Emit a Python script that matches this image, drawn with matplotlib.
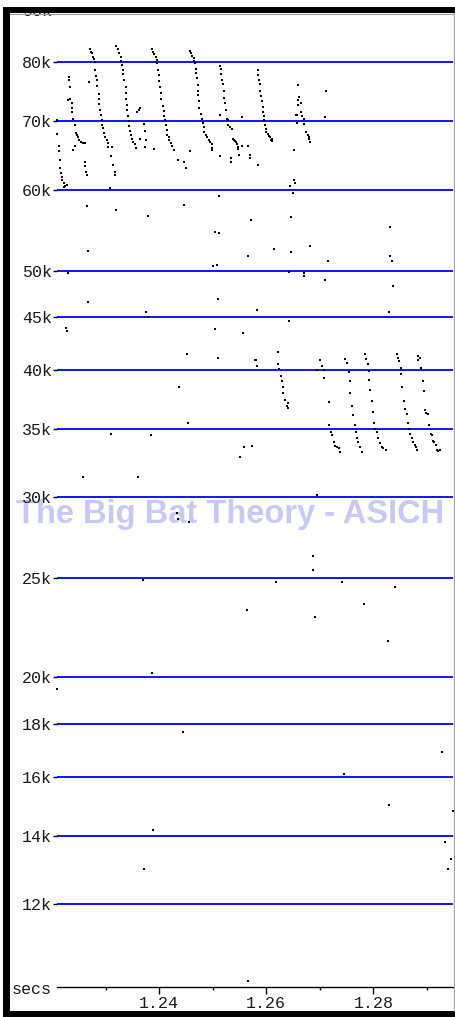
import matplotlib
matplotlib.use("Agg")
import matplotlib.pyplot as plt
from matplotlib.patches import Rectangle
from matplotlib.lines import Line2D
from matplotlib.ticker import NullLocator

# ---------------- data (time in s, frequency in kHz) ----------------
call_a_t = [1.2209, 1.2209, 1.2212, 1.2212, 1.2214, 1.2214, 1.2217, 1.2218, 1.2219, 1.2221, 1.2222, 1.2223, 1.2228]
call_a_f = [70.2, 68.0, 66.2, 65.5, 64.1, 63.0, 62.3, 61.7, 61.4, 60.9, 60.4, 60.5, 60.6]

call_b_t = [1.2232, 1.2232, 1.2234, 1.2229, 1.2233, 1.2236, 1.2237, 1.2237, 1.2239, 1.2242, 1.2244, 1.2247,
            1.2248, 1.2250, 1.2253, 1.2257, 1.2261, 1.2242, 1.2239, 1.2262, 1.2262, 1.2263, 1.2264]
call_b_f = [77.4, 76.8, 75.6, 73.4, 73.6, 72.9, 72.2, 71.5, 70.4, 69.4, 68.2, 67.9,
            67.5, 67.1, 66.8, 66.7, 66.6, 66.2, 65.6, 63.8, 63.3, 62.5, 62.0]

call_c_t = [1.2270, 1.2273, 1.2274, 1.2277, 1.2278, 1.2279, 1.2280, 1.2282, 1.2283, 1.2284, 1.2287, 1.2287,
            1.2288, 1.2289, 1.2291, 1.2292, 1.2293, 1.2294, 1.2297, 1.2299, 1.2302, 1.2304, 1.2305, 1.2312,
            1.2310, 1.2314, 1.2317, 1.2317]
call_c_f = [82.3, 81.9, 81.6, 81.0, 80.5, 80.0, 78.6, 77.6, 76.8, 75.8, 74.4, 73.6,
            72.8, 71.8, 71.0, 70.2, 69.4, 68.9, 68.2, 67.6, 67.1, 66.7, 66.1, 66.1,
            64.8, 63.4, 62.5, 62.0]

call_d_t = [1.2320, 1.2323, 1.2325, 1.2328, 1.2329, 1.2330, 1.2332, 1.2333, 1.2334, 1.2337, 1.2337, 1.2338,
            1.2339, 1.2340, 1.2342, 1.2343, 1.2344, 1.2345, 1.2347, 1.2349, 1.2351, 1.2354, 1.2357]
call_d_f = [82.9, 82.3, 81.6, 81.0, 80.2, 79.5, 78.5, 77.9, 76.8, 75.7, 74.6, 73.6,
            72.6, 71.8, 70.8, 70.0, 69.2, 68.5, 67.9, 67.3, 66.8, 66.5, 65.9]

call_e_t = [1.2386, 1.2389, 1.2391, 1.2394, 1.2396, 1.2396, 1.2398, 1.2399, 1.2400, 1.2401, 1.2403, 1.2404,
            1.2406, 1.2408, 1.2409, 1.2411, 1.2413, 1.2414, 1.2415, 1.2418, 1.2419, 1.2421, 1.2424, 1.2428,
            1.2435, 1.2447, 1.2450]
call_e_f = [82.3, 81.8, 81.5, 81.0, 80.4, 79.8, 78.6, 77.7, 76.7, 75.7, 74.6, 73.6,
            72.4, 71.7, 70.8, 70.2, 69.4, 68.6, 67.9, 67.5, 67.1, 66.7, 66.2, 65.6,
            64.1, 63.9, 63.0]

call_f_t = [1.2457, 1.2459, 1.2462, 1.2464, 1.2465, 1.2467, 1.2468, 1.2469, 1.2470, 1.2472, 1.2473, 1.2473,
            1.2474, 1.2475, 1.2478, 1.2479, 1.2482, 1.2483, 1.2484, 1.2487, 1.2489, 1.2492, 1.2494, 1.2498,
            1.2499, 1.2499]
call_f_f = [82.1, 81.6, 81.1, 80.7, 80.2, 79.8, 78.7, 78.0, 77.1, 76.0, 74.9, 74.3,
            73.3, 72.2, 71.1, 70.3, 69.7, 69.1, 68.4, 67.9, 67.5, 67.1, 66.8, 66.5,
            65.9, 65.6]

call_g_t = [1.2514, 1.2515, 1.2516, 1.2518, 1.2519, 1.2521, 1.2521, 1.2523, 1.2524, 1.2527, 1.2529, 1.2529,
            1.2532, 1.2535, 1.2537, 1.2539, 1.2542, 1.2544, 1.2545, 1.2547, 1.2548]
call_g_f = [79.3, 78.7, 77.9, 76.9, 76.1, 74.9, 73.8, 72.9, 71.8, 70.3, 70.2, 69.4,
            69.1, 68.8, 67.3, 67.1, 67.0, 66.8, 66.5, 66.1, 65.8]

call_h_t = [1.2584, 1.2585, 1.2586, 1.2589, 1.2589, 1.2590, 1.2591, 1.2593, 1.2594, 1.2595, 1.2596, 1.2598,
            1.2599, 1.2600, 1.2603, 1.2605, 1.2607, 1.2610, 1.2611, 1.2609]
call_h_f = [78.5, 77.7, 76.8, 76.1, 74.9, 74.1, 73.3, 72.3, 71.5, 70.8, 70.2, 69.4,
            68.8, 68.4, 68.0, 67.7, 67.5, 67.2, 67.0, 67.1]

call_i_t = [1.2660, 1.2661, 1.2659, 1.2660, 1.2665, 1.2665, 1.2655, 1.2657, 1.2667, 1.2670, 1.2670, 1.2657,
            1.2675, 1.2677, 1.2679, 1.2680, 1.2682]
call_i_f = [76.0, 74.0, 73.4, 72.7, 72.9, 71.5, 71.0, 71.0, 70.9, 70.3, 69.5, 69.7,
            68.3, 67.9, 67.5, 67.2, 66.8]

call_j_t = [1.2621, 1.2622, 1.2624, 1.2627, 1.2629, 1.2632, 1.2632, 1.2635, 1.2638, 1.2641, 1.2640]
call_j_f = [41.6, 40.5, 40.1, 39.4, 39.0, 38.5, 38.0, 37.4, 36.9, 37.1, 36.7]

call_k_t = [1.2700, 1.2704, 1.2707, 1.2695, 1.2707, 1.2717, 1.2717, 1.2720, 1.2722, 1.2726, 1.2728, 1.2732,
            1.2735, 1.2737]
call_k_f = [40.9, 40.3, 40.0, 40.0, 39.3, 37.2, 35.3, 34.8, 34.5, 34.0, 33.7, 33.6, 33.5, 33.2]

call_l_t = [1.2747, 1.2750, 1.2755, 1.2757, 1.2757, 1.2760, 1.2762, 1.2765, 1.2767, 1.2770, 1.2772, 1.2775,
            1.2779]
call_l_f = [41.0, 40.6, 39.8, 39.0, 38.0, 36.9, 36.1, 35.3, 34.8, 34.3, 34.0, 33.6, 33.2]

call_m_t = [1.2785, 1.2786, 1.2790, 1.2792, 1.2792, 1.2794, 1.2797, 1.2799, 1.2802, 1.2804, 1.2807, 1.2809,
            1.2812, 1.2816, 1.2819, 1.2823]
call_m_f = [41.4, 41.0, 40.5, 39.9, 39.1, 38.2, 37.3, 36.4, 35.5, 35.0, 34.8, 34.3, 33.9, 33.6, 33.5, 33.4]

call_n_t = [1.2844, 1.2846, 1.2848, 1.2852, 1.2852, 1.2854, 1.2857, 1.2859, 1.2862, 1.2864, 1.2867, 1.2869,
            1.2872, 1.2874, 1.2877, 1.2879, 1.2882]
call_n_f = [41.4, 41.1, 40.8, 40.2, 39.6, 38.5, 37.3, 36.6, 36.2, 35.5, 35.0, 34.6, 34.3, 34.0, 33.8, 33.6,
            33.4]

call_o_t = [1.2884, 1.2887, 1.2884, 1.2889, 1.2892, 1.2894, 1.2897, 1.2899, 1.2902, 1.2904, 1.2907, 1.2909,
            1.2912, 1.2914, 1.2917, 1.2919, 1.2921, 1.2925]
call_o_f = [41.3, 41.1, 40.9, 40.2, 39.0, 38.1, 36.5, 36.3, 36.2, 35.3, 34.6, 34.5, 34.1, 34.0, 33.8, 33.4,
            33.3, 33.4]

stray_hi_t = [1.2230, 1.2264, 1.2267, 1.2267, 1.2269, 1.2307, 1.2319, 1.2364, 1.2371, 1.2374, 1.2375, 1.2373,
              1.2359, 1.2362, 1.2364, 1.2390, 1.2379, 1.2457, 1.2447, 1.2512, 1.2504, 1.2512, 1.2554, 1.2566,
              1.2514, 1.2554, 1.2549, 1.2534, 1.2534, 1.2514, 1.2569, 1.2569, 1.2584, 1.2571, 1.2615, 1.2651,
              1.2651, 1.2654, 1.2644, 1.2649, 1.2647, 1.2712, 1.2709, 1.2566, 1.2647, 1.2682, 1.2715, 1.2643,
              1.2671, 1.2671, 1.2710, 1.2832, 1.2832, 1.2834, 1.2837, 1.2829, 1.2582, 1.2376, 1.2379, 1.2501,
              1.2507, 1.2510]
stray_hi_f = [49.7, 57.8, 52.3, 46.6, 76.5, 60.3, 57.3, 67.3, 69.6, 68.5, 67.1, 66.1,
              71.5, 71.8, 72.1, 65.7, 56.5, 65.5, 58.0, 59.1, 54.6, 54.4, 66.2, 66.2,
              71.0, 70.7, 64.9, 64.5, 63.9, 64.7, 64.9, 64.4, 63.4, 56.0, 52.5, 65.6,
              61.4, 60.9, 60.5, 59.5, 56.4, 74.9, 70.7, 51.7, 52.1, 52.9, 51.1, 49.9,
              49.7, 49.4, 49.0, 51.7, 55.2, 51.1, 48.3, 45.6, 45.8, 45.6, 45.0, 50.5,
              50.7, 46.9]

stray_mid_t = [1.2226, 1.2227, 1.2258, 1.2310, 1.2642, 1.2557, 1.2578, 1.2580, 1.2582, 1.2551, 1.2559, 1.2574,
               1.2694, 1.2510, 1.2504, 1.2452, 1.2437, 1.2454, 1.2384, 1.2360, 1.2433, 1.2435, 1.2455, 1.2688,
               1.2687, 1.2369, 1.2619, 1.2742, 1.2841, 1.2564, 1.2691, 1.2782, 1.2827, 1.2387]
stray_mid_f = [43.9, 43.6, 31.4, 34.6, 44.6, 43.5, 40.9, 40.9, 40.3, 32.9, 33.6, 33.7,
               30.2, 41.1, 43.8, 41.4, 38.5, 35.5, 34.5, 31.4, 29.0, 28.6, 28.4, 26.3,
               25.5, 24.9, 24.8, 24.8, 24.5, 23.3, 22.9, 23.6, 21.7, 20.2]

stray_lo_t = [1.2209, 1.2444, 1.2929, 1.2745, 1.2829, 1.2948, 1.2389, 1.2934, 1.2946, 1.2939, 1.2371, 1.2566]
stray_lo_f = [19.5, 17.7, 16.9, 16.1, 15.0, 14.8, 14.2, 13.8, 13.3, 13.0, 13.0, 10.1]

y_ticks = [12, 14, 16, 18, 20, 25, 30, 35, 40, 45, 50, 60, 70, 80]
y_labels = ["12k", "14k", "16k", "18k", "20k", "25k", "30k", "35k", "40k", "45k", "50k", "60k", "70k", "80k"]
top_tick = 90
top_label = "90k"
x_major = [1.24, 1.26, 1.28]
x_major_labels = ["1.24", "1.26", "1.28"]
x_minor = [1.23, 1.25, 1.27, 1.29]
x_range = (1.22088, 1.29489)
y_range = (9.96, 89.34)
watermark = "The Big Bat Theory - ASICH"
axis_name = "secs"

# ---------------- figure ----------------
W, H = 455, 1017
fig = plt.figure(figsize=(W / 100, H / 100), dpi=100)
fig.patch.set_facecolor("white")


def fx(px):
    return px / W


def fy(py):
    return 1 - py / H


mono = ["Liberation Mono", "DejaVu Sans Mono"]
ax = fig.add_axes([fx(57), fy(987), fx(453) - fx(57), fy(13) - fy(987)])
ax.set_facecolor("white")
ax.set_yscale("log")
ax.set_xlim(*x_range)
ax.set_ylim(*y_range)

for v in y_ticks:
    ax.axhline(v, color="#0000ff", lw=1.3, zorder=1)

ax.set_yticks(y_ticks)
ax.set_yticklabels(y_labels, fontfamily=mono, fontsize=12, color="#1a1a1a")
ax.yaxis.set_minor_locator(NullLocator())
ax.tick_params(axis="y", which="major", length=3, width=1, pad=0.5, color="black", direction="out")

ax.set_xticks(x_major)
ax.set_xticklabels(x_major_labels, fontfamily=mono, fontsize=12, color="#1a1a1a")
ax.set_xticks(x_minor, minor=True)
ax.tick_params(axis="x", which="major", length=5, width=1, pad=1.5, color="black", direction="out")
ax.tick_params(axis="x", which="minor", length=2.2, width=1, color="black", direction="out")

for s in ["left", "top", "right"]:
    ax.spines[s].set_visible(False)
ax.spines["bottom"].set_color("black")
ax.spines["bottom"].set_linewidth(1)

# 90k label (partly hidden under the frame)
ax.annotate(top_label, xy=(0, top_tick), xycoords=("axes fraction", "data"),
            xytext=(-3.0, 0), textcoords="offset points", ha="right", va="center_baseline",
            fontfamily=mono, fontsize=12, color="#1a1a1a", annotation_clip=False)

# watermark
ax.text(fx(230), fy(523), watermark, transform=fig.transFigure, ha="center", va="baseline",
        fontfamily=["Liberation Sans", "DejaVu Sans"], fontweight="bold", fontsize=23.5,
        color="#c8c8f4", zorder=1.5, clip_on=False)

# points
groups = [(call_a_t, call_a_f), (call_b_t, call_b_f), (call_c_t, call_c_f), (call_d_t, call_d_f),
          (call_e_t, call_e_f), (call_f_t, call_f_f), (call_g_t, call_g_f), (call_h_t, call_h_f),
          (call_i_t, call_i_f), (call_j_t, call_j_f), (call_k_t, call_k_f), (call_l_t, call_l_f),
          (call_m_t, call_m_f), (call_n_t, call_n_f), (call_o_t, call_o_f),
          (stray_hi_t, stray_hi_f), (stray_mid_t, stray_mid_f), (stray_lo_t, stray_lo_f)]
for tt, ff in groups:
    ax.scatter(tt, ff, marker="s", s=4.0, c="black", linewidths=0, zorder=3, clip_on=False)

# axis name at left of the time axis
fig.text(fx(12), fy(989), axis_name, ha="left", va="center", fontfamily=mono, fontsize=12,
         color="#1a1a1a")

# frame
fig.add_artist(Rectangle((0, fy(7)), 1, 7 / H, transform=fig.transFigure, facecolor="white",
                         edgecolor="none", zorder=10))
fig.add_artist(Rectangle((fx(3), fy(13)), 1, 6 / H, transform=fig.transFigure, facecolor="black",
                         edgecolor="none", zorder=11))
fig.add_artist(Rectangle((fx(3), 0), 7 / W, fy(7), transform=fig.transFigure, facecolor="black",
                         edgecolor="none", zorder=11))
fig.add_artist(Rectangle((fx(3), 0), 1, 6 / H, transform=fig.transFigure, facecolor="black",
                         edgecolor="none", zorder=11))
fig.add_artist(Line2D([fx(10), 1], [fy(13.5), fy(13.5)], transform=fig.transFigure, color="#9a9a9a",
                      lw=0.8, zorder=11))
fig.add_artist(Line2D([fx(453.5), fx(453.5)], [fy(1011), fy(13)], transform=fig.transFigure,
                      color="#9a9a9a", lw=0.8, zorder=11))

fig.savefig("out.png", dpi=100, facecolor="white")
